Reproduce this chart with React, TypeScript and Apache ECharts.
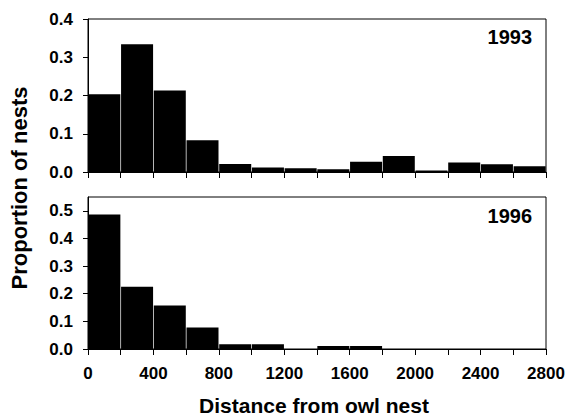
import React, { useEffect, useRef } from "react";
import * as echarts from "echarts";

const binStarts = [0, 200, 400, 600, 800, 1000, 1200, 1400, 1600, 1800, 2000, 2200, 2400, 2600];
const binWidth = 200;
const values1993 = [0.203, 0.334, 0.213, 0.083, 0.021, 0.012, 0.0095, 0.007, 0.027, 0.042, 0.004, 0.025, 0.02, 0.015];
const values1996 = [0.487, 0.225, 0.157, 0.078, 0.017, 0.017, 0, 0.011, 0.011, 0, 0, 0, 0, 0];
const yTicks1993 = [0, 0.1, 0.2, 0.3, 0.4];
const yTicks1996 = [0, 0.1, 0.2, 0.3, 0.4, 0.5];
const xLabels = [0, 400, 800, 1200, 1600, 2000, 2400, 2800];

const FONT = "'Liberation Sans', Arial, Helvetica, sans-serif";

function renderBar(params: any, api: any) {
  const start = api.value(0);
  const end = api.value(1);
  const v = api.value(2);
  if (!v) return null;
  const p0 = api.coord([start, v]);
  const p1 = api.coord([end, 0]);
  return {
    type: "rect",
    shape: {
      x: p0[0] + 0.35,
      y: p0[1],
      width: p1[0] - p0[0] - 0.7,
      height: p1[1] - p0[1],
    },
    style: { fill: "#000" },
  };
}

export default function App() {
  const ref = useRef<HTMLDivElement>(null);
  useEffect(() => {
    if (!ref.current) return;
    const chart = echarts.init(ref.current, undefined, { renderer: "svg" });
    const mk = (vals: number[]) => binStarts.map((s, i) => [s, s + binWidth, vals[i]]);
    const axisLabelStyle = { color: "#000", fontFamily: FONT, fontWeight: "bold" as const, fontSize: 17 };
    const lineStyle = { color: "#000", width: 1 };
    const xCommon = {
      type: "value" as const,
      min: 0,
      max: 2800,
      interval: 200,
      axisLine: { show: true, lineStyle },
      axisTick: { show: true, inside: false, length: 6, lineStyle },
      splitLine: { show: false },
    };
    chart.setOption({
      animation: false,
      backgroundColor: "#fff",
      grid: [
        { left: 88, right: 22, top: 19, height: 153, show: true, borderColor: "#000", borderWidth: 1, backgroundColor: "transparent" },
        { left: 88, right: 22, top: 197, height: 152, show: true, borderColor: "#000", borderWidth: 1, backgroundColor: "transparent" },
      ],
      xAxis: [
        { ...xCommon, gridIndex: 0, axisLabel: { show: false } },
        {
          ...xCommon,
          gridIndex: 1,
          axisLabel: {
            ...axisLabelStyle,
            margin: 16,
            formatter: (v: number) => (xLabels.includes(v) ? String(v) : ""),
          },
        },
      ],
      yAxis: [
        {
          type: "value",
          gridIndex: 0,
          min: 0,
          max: 0.4,
          interval: 0.1,
          axisLine: { show: true, lineStyle },
          axisTick: { show: true, length: 5, lineStyle },
          splitLine: { show: false },
          axisLabel: { ...axisLabelStyle, margin: 15, formatter: (v: number) => (yTicks1993.some((t) => Math.abs(t - v) < 1e-9) ? v.toFixed(1) : "") },
        },
        {
          type: "value",
          gridIndex: 1,
          min: 0,
          max: 0.55,
          axisLine: { show: true, lineStyle },
          axisTick: { show: true, length: 5, lineStyle, customValues: yTicks1996 },
          splitLine: { show: false },
          axisLabel: { ...axisLabelStyle, margin: 15, customValues: yTicks1996, formatter: (v: number) => v.toFixed(1) },
        },
      ],
      series: [
        { type: "custom", xAxisIndex: 0, yAxisIndex: 0, renderItem: renderBar, data: mk(values1993), encode: { x: [0, 1], y: 2 } },
        { type: "custom", xAxisIndex: 1, yAxisIndex: 1, renderItem: renderBar, data: mk(values1996), encode: { x: [0, 1], y: 2 } },
      ],
      graphic: [
        { type: "text", right: 36, top: 27, style: { text: "1993", fontFamily: FONT, fontWeight: "bold", fontSize: 20, fill: "#000" } },
        { type: "text", right: 36, top: 206, style: { text: "1996", fontFamily: FONT, fontWeight: "bold", fontSize: 20, fill: "#000" } },
        {
          type: "text",
          x: 19,
          y: 188,
          rotation: Math.PI / 2,
          style: { text: "Proportion of nests", fontFamily: FONT, fontWeight: "bold", fontSize: 22, fill: "#000", align: "center", verticalAlign: "middle" },
        },
        {
          type: "text",
          x: 314,
          y: 405,
          style: { text: "Distance from owl nest", fontFamily: FONT, fontWeight: "bold", fontSize: 21, fill: "#000", align: "center", verticalAlign: "middle" },
        },
      ],
    });
    return () => chart.dispose();
  }, []);
  return <div ref={ref} style={{ position: "fixed", left: 0, top: 0, width: 568, height: 418 }} />;
}
